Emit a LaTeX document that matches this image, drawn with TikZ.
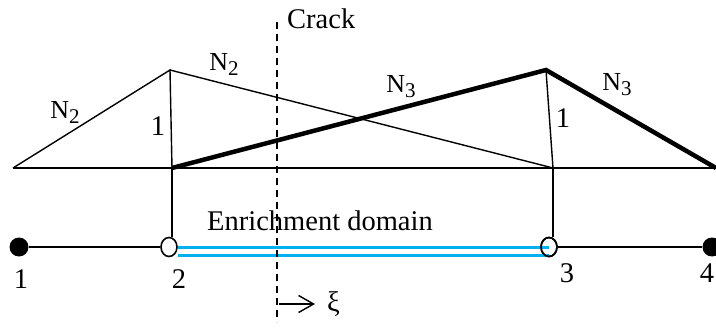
\documentclass[tikz,border=0pt]{standalone}
\usepackage{fontspec}
\setmainfont{Liberation Serif}
\usetikzlibrary{arrows.meta,shapes.geometric}
\newcommand{\Nsub}[1]{\fontsize{26}{28}\selectfont N\raisebox{-5pt}{\fontsize{21}{23}\selectfont #1}}
\begin{document}
\begin{tikzpicture}[x=1pt,y=-1pt,
  thinln/.style={line width=1.4pt},
  baseln/.style={line width=2.6pt},
  thickln/.style={line width=4.5pt, line join=miter},
  enrich/.style={line width=3pt, color={rgb,255:red,0;green,176;blue,240}},
  crackln/.style={line width=1.4pt, dash pattern=on 7pt off 5pt},
  lbl/.style={font=\fontsize{28.5}{30}\selectfont, inner sep=0pt},
  nlbl/.style={inner sep=0pt},
  fullnode/.style={circle, fill=black, minimum size=19pt, inner sep=0pt},
  opennode/.style={ellipse, draw=black, line width=1.6pt, minimum width=16pt, minimum height=19pt, inner sep=0pt},
]
\useasboundingbox (0,0) rectangle (716,329);
% shape function geometry
\coordinate (L) at (13,168);
\coordinate (R) at (716,168);
\coordinate (P2) at (170,70);
\coordinate (B2) at (172,168);
\coordinate (P3) at (546,70);
\coordinate (B3) at (553,168);
% nodes of the element line
\node[fullnode] (n1) at (19,247) {};
\node[opennode] (n2) at (169,247) {};
\node[opennode] (n3) at (549,247) {};
\node[fullnode] (n4) at (712,247) {};
% enrichment lines
\draw[enrich] (n2.east) -- (n3.center);
\draw[enrich] ([yshift=-8pt]n2.east) -- ([yshift=-8pt]n3.center);
\node[opennode] at (n3) {};
% baseline and shape functions
\draw[baseln] (L) -- (R);
\draw[thinln] (L) -- (P2) -- (B2);
\draw[thinln] (P2) -- (B3);
\draw[thinln] (P3) -- (B3);
\draw[thickln] (B2) -- (P3) -- (R);
% connections to element nodes
\draw[thinln] (B2) -- (B2 |- n2.north);
\draw[thinln] (B3) -- (B3 |- n3.north);
\draw[thinln] (n1) -- (n2);
\draw[thinln] (n3) -- (n4);
% crack
\coordinate (ct) at (277,22);
\coordinate (cb) at (277,322);
\draw[crackln] (ct) -- (cb);
\node[lbl, anchor=west] (crack) at (287,19) {Crack};
% xi arrow
\coordinate (xs) at (279,304);
\node[lbl, anchor=west] (xi) at (327,304) {ξ};
\draw[thinln, -{Straight Barb[length=15pt,width=17pt]}] (xs) -- (315,304);
% labels
\node[nlbl] (N2a) at (65,112) {\Nsub{2}};
\node[nlbl] (N2b) at (224,64) {\Nsub{2}};
\node[nlbl] (N3a) at (401,87) {\Nsub{3}};
\node[nlbl] (N3b) at (617,85) {\Nsub{3}};
\node[lbl] (one1) at (158,126) {1};
\node[lbl] (one2) at (563,118) {1};
\node[lbl] (ed) at (320,221) {Enrichment domain};
\node[lbl] (l1) at (21,279) {1};
\node[lbl] (l2) at (179,279) {2};
\node[lbl] (l3) at (567,273) {3};
\node[lbl] (l4) at (707,273) {4};
\end{tikzpicture}
\end{document}
